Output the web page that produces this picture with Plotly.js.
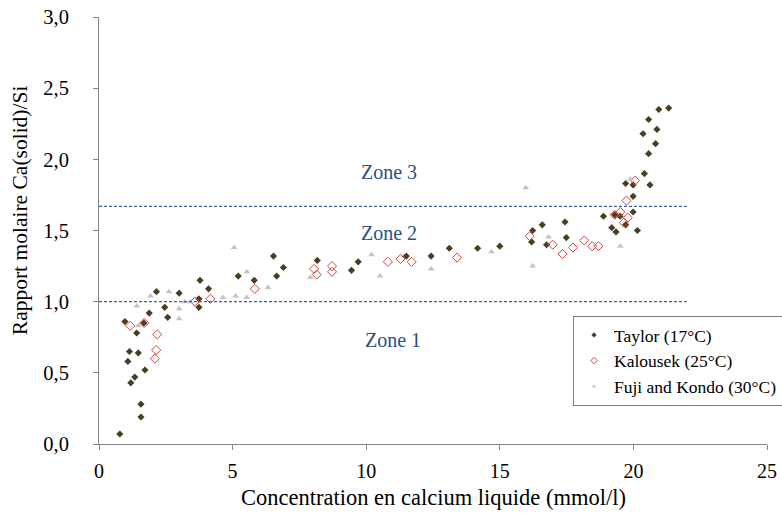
<!DOCTYPE html>
<html>
<head>
<meta charset="utf-8">
<script src="https://cdn.plot.ly/plotly-3.0.1.min.js"></script>
<style>html,body{margin:0;padding:0;background:#fff;}#chart{width:782px;height:513px;}</style>
</head>
<body>
<div id="chart"></div>
<script>
// Taylor (17°C)
const taylorX = [0.78,0.97,1.14,1.08,1.41,1.47,1.34,1.19,1.72,1.57,1.57,1.68,1.88,2.15,2.46,2.57,3.0,3.78,3.74,3.74,4.10,5.21,5.81,6.53,6.90,6.65,8.17,9.45,9.70,11.50,12.43,13.11,14.17,15.0,16.23,16.19,16.59,16.75,17.44,17.49,21.32,20.95,20.57,20.88,20.36,20.83,20.57,20.41,20.62,19.71,19.99,19.99,19.99,18.88,19.30,19.50,19.71,19.19,19.35,20.15];
const taylorY = [0.07,0.86,0.65,0.58,0.78,0.64,0.47,0.43,0.52,0.28,0.19,0.85,0.92,1.07,0.96,0.89,1.06,1.15,1.02,0.96,1.09,1.18,1.15,1.32,1.24,1.18,1.29,1.22,1.28,1.32,1.32,1.375,1.375,1.39,1.50,1.42,1.54,1.40,1.56,1.45,2.36,2.35,2.28,2.21,2.18,2.11,2.04,1.90,1.82,1.83,1.82,1.74,1.63,1.60,1.61,1.60,1.54,1.52,1.49,1.50];
// Kalousek (25°C)
const kalX = [1.17,1.69,2.18,2.14,2.09,3.59,4.17,5.83,8.05,8.15,8.72,8.72,10.81,11.28,11.70,13.40,16.12,16.98,17.35,17.74,18.16,18.46,18.69,20.06,19.74,19.51,19.30,19.79,19.64];
const kalY = [0.83,0.85,0.77,0.66,0.60,1.00,1.02,1.09,1.23,1.19,1.25,1.21,1.28,1.30,1.28,1.31,1.46,1.40,1.335,1.38,1.43,1.39,1.39,1.85,1.71,1.63,1.61,1.59,1.555];
// Fuji and Kondo (30°C)
const fujiX = [1.41,1.47,1.93,2.62,3.0,3.0,3.20,3.41,4.64,5.06,5.11,5.53,5.53,6.33,7.91,10.2,10.52,12.43,14.69,15.97,16.82,16.23,19.89,19.51];
const fujiY = [0.97,0.83,1.04,1.07,0.95,0.88,1.00,1.00,1.03,1.38,1.04,1.21,1.03,1.10,1.17,1.33,1.18,1.23,1.35,1.80,1.455,1.25,1.86,1.39];
// Series names
const seriesNames = ['Taylor (17°C)', 'Kalousek (25°C)', 'Fuji and Kondo (30°C)'];
// Zone boundaries and labels
const zoneLinesY = [1.0, 1.67];
const zoneLineX = [0, 22];
const zoneLabels = ['Zone 1','Zone 2','Zone 3'];
const zoneLabelX = [11.0, 10.85, 10.85];
const zoneLabelY = [0.73, 1.48, 1.91];
const xTicks = [0,5,10,15,20,25];
const yTicks = [0,0.5,1.0,1.5,2.0,2.5,3.0];
const xTitle = 'Concentration en calcium liquide (mmol/l)';
const yTitle = 'Rapport molaire Ca(solid)/Si';

const serif = 'Liberation Serif, Times New Roman, serif';
const styles = [
  {symbol:'diamond', size:5.5, color:'#463F22'},
  {symbol:'diamond-open', size:7, color:'#D9403C', line:{width:1}},
  {symbol:'triangle-up', size:6, color:'#C3C3C3'}
];
const legendStyles = [
  {symbol:'diamond', size:4, color:'#463F22'},
  {symbol:'diamond-open', size:5, color:'#D9403C', line:{width:1}},
  {symbol:'triangle-up', size:4, color:'#C8C8C8'}
];
const dataSets = [[taylorX, taylorY], [kalX, kalY], [fujiX, fujiY]];
const traces = [];
dataSets.forEach((d,i) => {
  traces.push({x:d[0], y:d[1], type:'scatter', mode:'markers', name:seriesNames[i], showlegend:false, marker:styles[i]});
});
dataSets.forEach((d,i) => {
  traces.push({x:[null], y:[null], type:'scatter', mode:'markers', name:seriesNames[i], showlegend:true, marker:legendStyles[i]});
});
const shapes = zoneLinesY.map(v => ({type:'line', xref:'x', yref:'y', x0:zoneLineX[0], x1:zoneLineX[1], y0:v, y1:v,
  line:{color:'#3A62A0', width:1.2, dash:'3px,2px'}}));
const annotations = zoneLabels.map((t,i) => ({x: zoneLabelX[i], y: zoneLabelY[i], xref:'x', yref:'y', text:t, showarrow:false,
  font:{family:serif, size:20, color:'#2A4F82'}}));
annotations.push({xref:'paper', yref:'paper', x:0.5, y:-0.126, xanchor:'center', yanchor:'middle', text:xTitle, showarrow:false,
  font:{family:serif, size:22.5, color:'#000'}});
annotations.push({xref:'paper', yref:'paper', x:-0.118, y:0.548, xanchor:'center', yanchor:'middle', text:yTitle, textangle:-90, showarrow:false,
  font:{family:serif, size:21.5, color:'#000'}});

const layout = {
  width:782, height:513,
  margin:{l:99, r:15, t:17, b:69, autoexpand:false},
  paper_bgcolor:'#fff', plot_bgcolor:'#fff',
  separators:', ',
  font:{family:serif, size:19, color:'#000'},
  showlegend:true,
  legend:{x:(573-99)/668, y:(444-316)/427, xanchor:'left', yanchor:'top', bgcolor:'#fff', bordercolor:'#808080', borderwidth:1,
    itemwidth:30, font:{family:serif, size:17.5, color:'#000'}},
  xaxis:{range:[0,25], tickvals:xTicks, ticktext:xTicks.map(String), showgrid:false, zeroline:false,
    showline:true, linecolor:'#868686', linewidth:1, ticks:'outside', ticklen:5, tickcolor:'#868686', ticklabelstandoff:4,
    tickfont:{family:serif, size:20}},
  yaxis:{range:[0,3], tickvals:yTicks, tickformat:'.1f', showgrid:false, zeroline:false,
    showline:true, linecolor:'#868686', linewidth:1, ticks:'outside', ticklen:5, tickcolor:'#868686', ticklabelstandoff:20,
    tickfont:{family:serif, size:20.5}},
  shapes: shapes,
  annotations: annotations
};
Plotly.newPlot('chart', traces, layout, {displayModeBar:false, staticPlot:true});
</script>
</body>
</html>
